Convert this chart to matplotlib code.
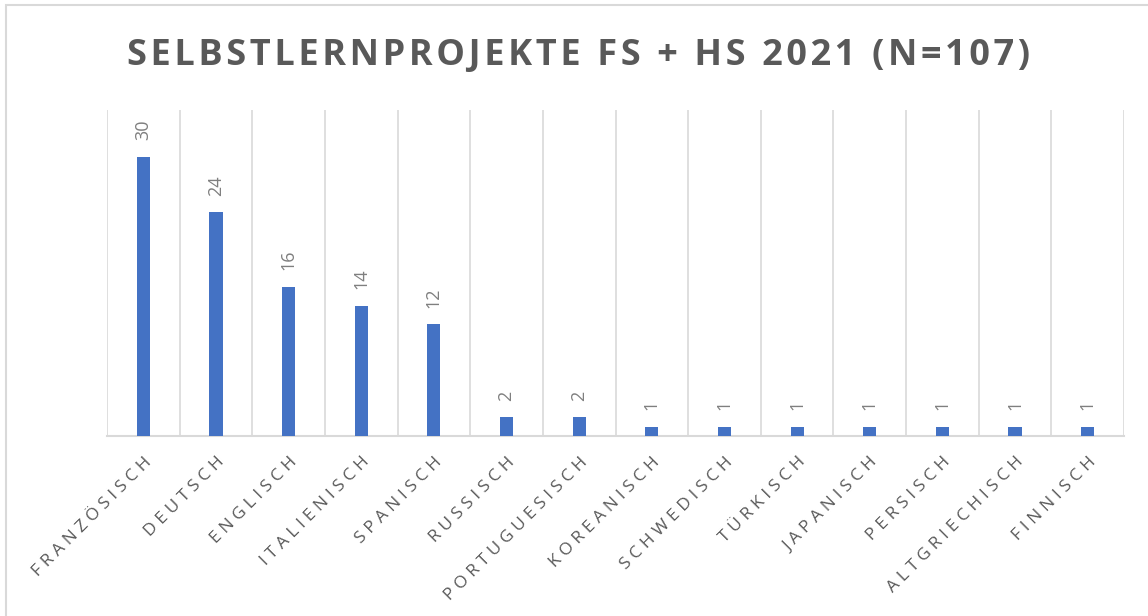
import matplotlib.pyplot as plt
from matplotlib.patches import Rectangle

# Selbstlernprojekte FS + HS 2021, counts per language
sprachen = ['Französisch', 'Deutsch', 'Englisch', 'Italienisch', 'Spanisch',
            'Russisch', 'Portuguesisch', 'Koreanisch', 'Schwedisch', 'Türkisch',
            'Japanisch', 'Persisch', 'Altgriechisch', 'Finnisch']
anzahl = [30, 24, 16, 14, 12, 2, 2, 1, 1, 1, 1, 1, 1, 1]
titel = 'Selbstlernprojekte FS + HS 2021 (N=107)'

FONT = ['Open Sans', 'DejaVu Sans']
plt.rcParams['font.family'] = FONT


def spaced(s, sep='\u200a'):
    # letter spacing like in the Excel chart
    return sep.join(s.upper())


fig = plt.figure(figsize=(11.48, 6.16), dpi=100)
ax = fig.add_axes([107 / 1148, 1 - 436 / 616, (1124 - 107) / 1148, (436 - 110) / 616])

x = list(range(len(sprachen)))
ax.bar(x, anzahl, width=0.18, color='#4472C4', zorder=3)

for xi, v in zip(x, anzahl):
    ax.annotate(str(v), (xi, v), xytext=(0, 12), textcoords='offset points',
                rotation=90, ha='center', va='bottom', fontsize=13, color='#7F7F7F')

ax.set_xlim(-0.5, len(sprachen) - 0.5)
ax.set_ylim(0, 35)

# vertical gridlines between categories
for b in range(len(sprachen) + 1):
    ax.axvline(b - 0.5, color='#D9D9D9', lw=1.2, zorder=1)

for s in ['top', 'right', 'left']:
    ax.spines[s].set_visible(False)
ax.spines['bottom'].set_color('#D9D9D9')
ax.spines['bottom'].set_linewidth(1.5)
ax.set_yticks([])
ax.set_xticks(x)
ax.set_xticklabels([spaced(s, '\u2009\u200a') for s in sprachen], rotation=45, ha='right',
                   va='top', rotation_mode='anchor', fontsize=12.5, color='#595959')
ax.tick_params(axis='x', length=0, pad=13)

fig.text(579 / 1148, 1 - 56 / 616, spaced(titel, '\u200a'), ha='center', va='center',
         fontsize=26, fontweight='bold', color='#595959')

fig.patches.append(Rectangle((6 / 1148, -0.1), 1.2, 1.1 - 5 / 616,
                             transform=fig.transFigure, fill=False,
                             edgecolor='#D9D9D9', lw=1.5))

plt.savefig('out.png', dpi=100)
